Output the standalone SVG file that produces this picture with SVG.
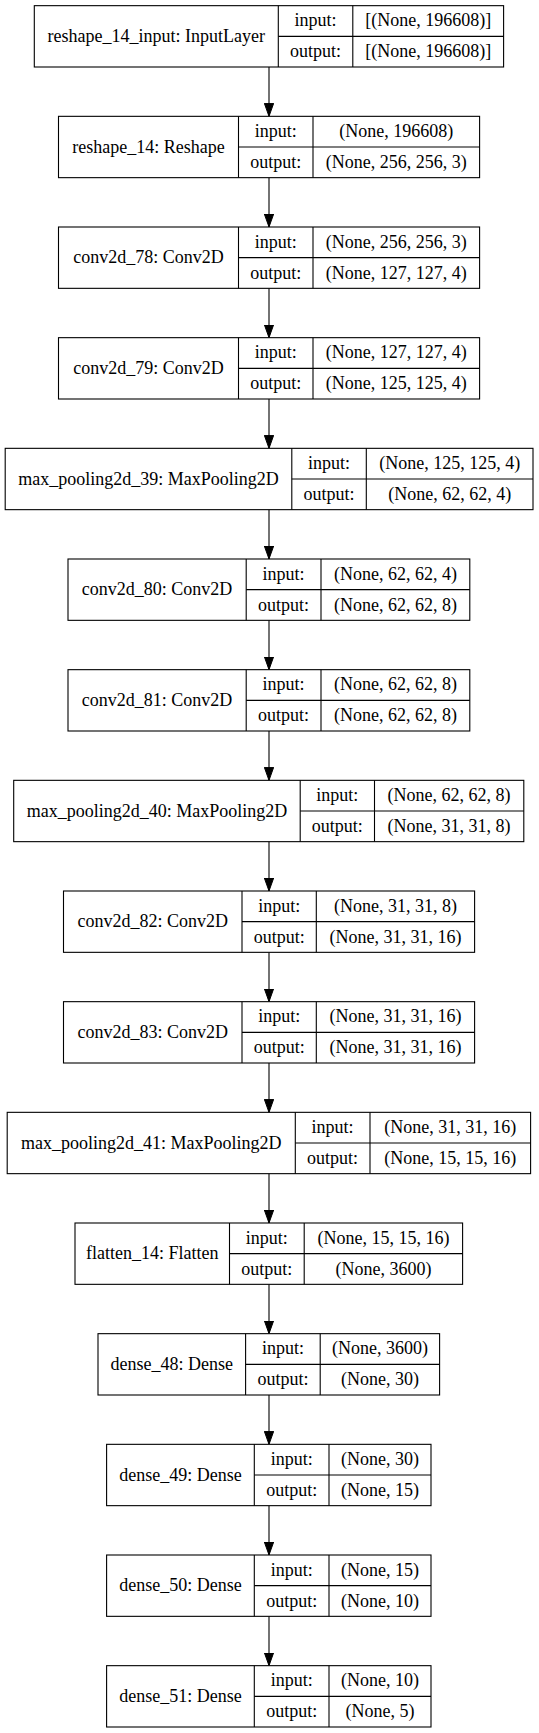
<svg xmlns="http://www.w3.org/2000/svg" width="539" height="1733" viewBox="0 0 539 1733">
<style>
.n rect, .n line { fill: #fff; stroke: #000; stroke-width: 1.1; }
text { font-family: "Liberation Serif", "Times New Roman", "DejaVu Serif", serif; font-size: 18px; fill: #000; text-anchor: middle; }
.edge { stroke: #000; stroke-width: 1.1; fill: none; marker-end: url(#ah); }
</style>
<defs>
<marker id="ah" markerUnits="userSpaceOnUse" markerWidth="14" markerHeight="10" refX="13" refY="4.67" orient="auto">
<path d="M0,0 L13,4.67 L0,9.33 Z" fill="#000" stroke="#000" stroke-width="1"/>
</marker>
</defs>
<rect id="bg" width="539" height="1733" style="fill:#fff;stroke:none"/>
<g id="connectors">
<line class="edge" x1="269" y1="67" x2="269" y2="116.33"/>
<line class="edge" x1="269" y1="177.67" x2="269" y2="227"/>
<line class="edge" x1="269" y1="288.33" x2="269" y2="337.67"/>
<line class="edge" x1="269" y1="399" x2="269" y2="448.33"/>
<line class="edge" x1="269" y1="509.67" x2="269" y2="559"/>
<line class="edge" x1="269" y1="620.33" x2="269" y2="669.67"/>
<line class="edge" x1="269" y1="731" x2="269" y2="780.33"/>
<line class="edge" x1="269" y1="841.67" x2="269" y2="891"/>
<line class="edge" x1="269" y1="952.33" x2="269" y2="1001.67"/>
<line class="edge" x1="269" y1="1063" x2="269" y2="1112.33"/>
<line class="edge" x1="269" y1="1173.67" x2="269" y2="1223"/>
<line class="edge" x1="269" y1="1284.33" x2="269" y2="1333.67"/>
<line class="edge" x1="269" y1="1395" x2="269" y2="1444.33"/>
<line class="edge" x1="269" y1="1505.67" x2="269" y2="1555"/>
<line class="edge" x1="269" y1="1616.33" x2="269" y2="1665.67"/>
</g>
<g id="n0" class="n" transform="translate(0,5.67)">
<rect x="34.3" y="0" width="469.3" height="61.33"/>
<line x1="278.3" y1="0" x2="278.3" y2="61.33"/><line x1="352.8" y1="0" x2="352.8" y2="61.33"/><line x1="278.3" y1="30.67" x2="503.6" y2="30.67"/>
<text x="156.3" y="36.2">reshape_14_input: InputLayer</text>
<text x="315.5" y="20.8">input:</text><text x="315.5" y="51.5">output:</text>
<text x="428.2" y="20.8">[(None, 196608)]</text><text x="428.2" y="51.5">[(None, 196608)]</text>
</g>
<g id="n1" class="n" transform="translate(0,116.33)">
<rect x="58.5" y="0" width="421.1" height="61.33"/>
<line x1="238.5" y1="0" x2="238.5" y2="61.33"/><line x1="313" y1="0" x2="313" y2="61.33"/><line x1="238.5" y1="30.67" x2="479.6" y2="30.67"/>
<text x="148.5" y="36.2">reshape_14: Reshape</text>
<text x="275.8" y="20.8">input:</text><text x="275.8" y="51.5">output:</text>
<text x="396.3" y="20.8">(None, 196608)</text><text x="396.3" y="51.5">(None, 256, 256, 3)</text>
</g>
<g id="n2" class="n" transform="translate(0,227)">
<rect x="58.5" y="0" width="421.1" height="61.33"/>
<line x1="238.5" y1="0" x2="238.5" y2="61.33"/><line x1="313" y1="0" x2="313" y2="61.33"/><line x1="238.5" y1="30.67" x2="479.6" y2="30.67"/>
<text x="148.5" y="36.2">conv2d_78: Conv2D</text>
<text x="275.8" y="20.8">input:</text><text x="275.8" y="51.5">output:</text>
<text x="396.3" y="20.8">(None, 256, 256, 3)</text><text x="396.3" y="51.5">(None, 127, 127, 4)</text>
</g>
<g id="n3" class="n" transform="translate(0,337.67)">
<rect x="58.5" y="0" width="421.1" height="61.33"/>
<line x1="238.5" y1="0" x2="238.5" y2="61.33"/><line x1="313" y1="0" x2="313" y2="61.33"/><line x1="238.5" y1="30.67" x2="479.6" y2="30.67"/>
<text x="148.5" y="36.2">conv2d_79: Conv2D</text>
<text x="275.8" y="20.8">input:</text><text x="275.8" y="51.5">output:</text>
<text x="396.3" y="20.8">(None, 127, 127, 4)</text><text x="396.3" y="51.5">(None, 125, 125, 4)</text>
</g>
<g id="n4" class="n" transform="translate(0,448.33)">
<rect x="5.2" y="0" width="527.8" height="61.33"/>
<line x1="291.8" y1="0" x2="291.8" y2="61.33"/><line x1="366.3" y1="0" x2="366.3" y2="61.33"/><line x1="291.8" y1="30.67" x2="533" y2="30.67"/>
<text x="148.5" y="36.2">max_pooling2d_39: MaxPooling2D</text>
<text x="329" y="20.8">input:</text><text x="329" y="51.5">output:</text>
<text x="449.7" y="20.8">(None, 125, 125, 4)</text><text x="449.7" y="51.5">(None, 62, 62, 4)</text>
</g>
<g id="n5" class="n" transform="translate(0,559)">
<rect x="68" y="0" width="401.8" height="61.33"/>
<line x1="246.2" y1="0" x2="246.2" y2="61.33"/><line x1="321" y1="0" x2="321" y2="61.33"/><line x1="246.2" y1="30.67" x2="469.8" y2="30.67"/>
<text x="157.1" y="36.2">conv2d_80: Conv2D</text>
<text x="283.6" y="20.8">input:</text><text x="283.6" y="51.5">output:</text>
<text x="395.4" y="20.8">(None, 62, 62, 4)</text><text x="395.4" y="51.5">(None, 62, 62, 8)</text>
</g>
<g id="n6" class="n" transform="translate(0,669.67)">
<rect x="68" y="0" width="401.8" height="61.33"/>
<line x1="246.2" y1="0" x2="246.2" y2="61.33"/><line x1="321" y1="0" x2="321" y2="61.33"/><line x1="246.2" y1="30.67" x2="469.8" y2="30.67"/>
<text x="157.1" y="36.2">conv2d_81: Conv2D</text>
<text x="283.6" y="20.8">input:</text><text x="283.6" y="51.5">output:</text>
<text x="395.4" y="20.8">(None, 62, 62, 8)</text><text x="395.4" y="51.5">(None, 62, 62, 8)</text>
</g>
<g id="n7" class="n" transform="translate(0,780.33)">
<rect x="13.7" y="0" width="510.1" height="61.33"/>
<line x1="300.2" y1="0" x2="300.2" y2="61.33"/><line x1="374.5" y1="0" x2="374.5" y2="61.33"/><line x1="300.2" y1="30.67" x2="523.8" y2="30.67"/>
<text x="157" y="36.2">max_pooling2d_40: MaxPooling2D</text>
<text x="337.3" y="20.8">input:</text><text x="337.3" y="51.5">output:</text>
<text x="449.1" y="20.8">(None, 62, 62, 8)</text><text x="449.1" y="51.5">(None, 31, 31, 8)</text>
</g>
<g id="n8" class="n" transform="translate(0,891)">
<rect x="63.5" y="0" width="411.1" height="61.33"/>
<line x1="242" y1="0" x2="242" y2="61.33"/><line x1="316.3" y1="0" x2="316.3" y2="61.33"/><line x1="242" y1="30.67" x2="474.6" y2="30.67"/>
<text x="152.7" y="36.2">conv2d_82: Conv2D</text>
<text x="279.2" y="20.8">input:</text><text x="279.2" y="51.5">output:</text>
<text x="395.4" y="20.8">(None, 31, 31, 8)</text><text x="395.4" y="51.5">(None, 31, 31, 16)</text>
</g>
<g id="n9" class="n" transform="translate(0,1001.67)">
<rect x="63.5" y="0" width="411.1" height="61.33"/>
<line x1="242" y1="0" x2="242" y2="61.33"/><line x1="316.3" y1="0" x2="316.3" y2="61.33"/><line x1="242" y1="30.67" x2="474.6" y2="30.67"/>
<text x="152.7" y="36.2">conv2d_83: Conv2D</text>
<text x="279.2" y="20.8">input:</text><text x="279.2" y="51.5">output:</text>
<text x="395.4" y="20.8">(None, 31, 31, 16)</text><text x="395.4" y="51.5">(None, 31, 31, 16)</text>
</g>
<g id="n10" class="n" transform="translate(0,1112.33)">
<rect x="7.2" y="0" width="523.4" height="61.33"/>
<line x1="295.3" y1="0" x2="295.3" y2="61.33"/><line x1="370" y1="0" x2="370" y2="61.33"/><line x1="295.3" y1="30.67" x2="530.6" y2="30.67"/>
<text x="151.2" y="36.2">max_pooling2d_41: MaxPooling2D</text>
<text x="332.6" y="20.8">input:</text><text x="332.6" y="51.5">output:</text>
<text x="450.3" y="20.8">(None, 31, 31, 16)</text><text x="450.3" y="51.5">(None, 15, 15, 16)</text>
</g>
<g id="n11" class="n" transform="translate(0,1223)">
<rect x="75" y="0" width="387.6" height="61.33"/>
<line x1="229.5" y1="0" x2="229.5" y2="61.33"/><line x1="304.2" y1="0" x2="304.2" y2="61.33"/><line x1="229.5" y1="30.67" x2="462.6" y2="30.67"/>
<text x="152.2" y="36.2">flatten_14: Flatten</text>
<text x="266.8" y="20.8">input:</text><text x="266.8" y="51.5">output:</text>
<text x="383.4" y="20.8">(None, 15, 15, 16)</text><text x="383.4" y="51.5">(None, 3600)</text>
</g>
<g id="n12" class="n" transform="translate(0,1333.67)">
<rect x="98" y="0" width="341.6" height="61.33"/>
<line x1="245.6" y1="0" x2="245.6" y2="61.33"/><line x1="320.2" y1="0" x2="320.2" y2="61.33"/><line x1="245.6" y1="30.67" x2="439.6" y2="30.67"/>
<text x="171.8" y="36.2">dense_48: Dense</text>
<text x="282.9" y="20.8">input:</text><text x="282.9" y="51.5">output:</text>
<text x="379.9" y="20.8">(None, 3600)</text><text x="379.9" y="51.5">(None, 30)</text>
</g>
<g id="n13" class="n" transform="translate(0,1444.33)">
<rect x="106.6" y="0" width="324.4" height="61.33"/>
<line x1="254.3" y1="0" x2="254.3" y2="61.33"/><line x1="329" y1="0" x2="329" y2="61.33"/><line x1="254.3" y1="30.67" x2="431" y2="30.67"/>
<text x="180.5" y="36.2">dense_49: Dense</text>
<text x="291.7" y="20.8">input:</text><text x="291.7" y="51.5">output:</text>
<text x="380" y="20.8">(None, 30)</text><text x="380" y="51.5">(None, 15)</text>
</g>
<g id="n14" class="n" transform="translate(0,1555)">
<rect x="106.6" y="0" width="324.4" height="61.33"/>
<line x1="254.3" y1="0" x2="254.3" y2="61.33"/><line x1="329" y1="0" x2="329" y2="61.33"/><line x1="254.3" y1="30.67" x2="431" y2="30.67"/>
<text x="180.5" y="36.2">dense_50: Dense</text>
<text x="291.7" y="20.8">input:</text><text x="291.7" y="51.5">output:</text>
<text x="380" y="20.8">(None, 15)</text><text x="380" y="51.5">(None, 10)</text>
</g>
<g id="n15" class="n" transform="translate(0,1665.67)">
<rect x="106.6" y="0" width="324.4" height="61.33"/>
<line x1="254.3" y1="0" x2="254.3" y2="61.33"/><line x1="329" y1="0" x2="329" y2="61.33"/><line x1="254.3" y1="30.67" x2="431" y2="30.67"/>
<text x="180.5" y="36.2">dense_51: Dense</text>
<text x="291.7" y="20.8">input:</text><text x="291.7" y="51.5">output:</text>
<text x="380" y="20.8">(None, 10)</text><text x="380" y="51.5">(None, 5)</text>
</g>
</svg>
